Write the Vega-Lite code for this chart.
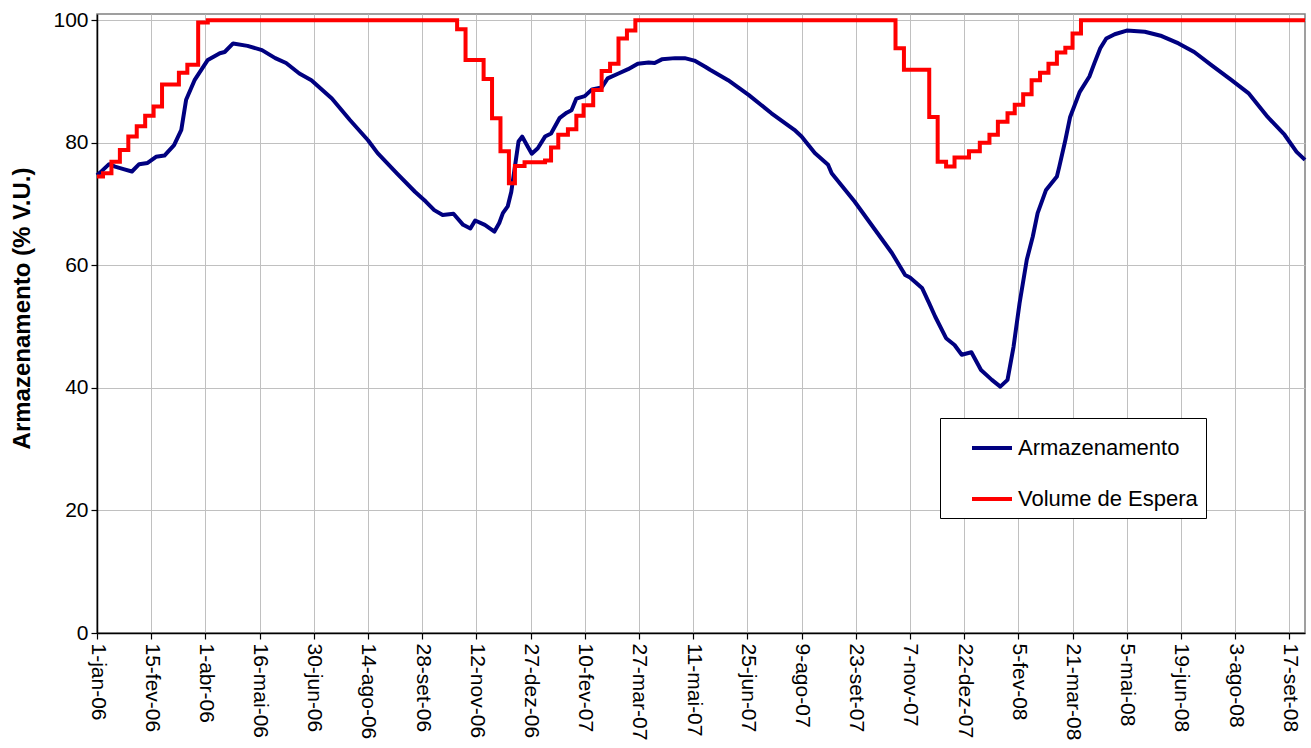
{
  "$schema": "https://vega.github.io/schema/vega-lite/v6.json",
  "width": 1208,
  "height": 619,
  "autosize": {"type": "none"},
  "padding": {"left": 97, "top": 14, "right": 6, "bottom": 115},
  "background": "white",
  "config": {
    "font": "Liberation Sans",
    "view": {"stroke": "#808080", "strokeWidth": 1.5},
    "axis": {"labelFont": "Liberation Sans", "titleFont": "Liberation Sans", "labelColor": "black", "titleColor": "black", "domainColor": "black", "domainWidth": 1.5, "tickColor": "black", "tickWidth": 1.2, "gridColor": "#c0c0c0", "gridWidth": 1}
  },
  "datasets": {
    "serie": [
      {"serie": "Armazenamento", "data": "2006-01-01", "valor": 74.7},
      {"serie": "Armazenamento", "data": "2006-01-04", "valor": 75.2},
      {"serie": "Armazenamento", "data": "2006-01-11", "valor": 76.5},
      {"serie": "Armazenamento", "data": "2006-01-16", "valor": 76.1},
      {"serie": "Armazenamento", "data": "2006-01-23", "valor": 75.7},
      {"serie": "Armazenamento", "data": "2006-01-30", "valor": 75.3},
      {"serie": "Armazenamento", "data": "2006-02-05", "valor": 76.5},
      {"serie": "Armazenamento", "data": "2006-02-12", "valor": 76.7},
      {"serie": "Armazenamento", "data": "2006-02-19", "valor": 77.7},
      {"serie": "Armazenamento", "data": "2006-02-26", "valor": 77.9},
      {"serie": "Armazenamento", "data": "2006-03-06", "valor": 79.6},
      {"serie": "Armazenamento", "data": "2006-03-12", "valor": 82.1},
      {"serie": "Armazenamento", "data": "2006-03-16", "valor": 87.0},
      {"serie": "Armazenamento", "data": "2006-03-23", "valor": 90.2},
      {"serie": "Armazenamento", "data": "2006-04-03", "valor": 93.5},
      {"serie": "Armazenamento", "data": "2006-04-13", "valor": 94.6},
      {"serie": "Armazenamento", "data": "2006-04-17", "valor": 94.8},
      {"serie": "Armazenamento", "data": "2006-04-24", "valor": 96.2},
      {"serie": "Armazenamento", "data": "2006-05-06", "valor": 95.8},
      {"serie": "Armazenamento", "data": "2006-05-18", "valor": 95.1},
      {"serie": "Armazenamento", "data": "2006-05-29", "valor": 93.8},
      {"serie": "Armazenamento", "data": "2006-06-07", "valor": 93.0},
      {"serie": "Armazenamento", "data": "2006-06-18", "valor": 91.3},
      {"serie": "Armazenamento", "data": "2006-06-28", "valor": 90.2},
      {"serie": "Armazenamento", "data": "2006-07-15", "valor": 87.2},
      {"serie": "Armazenamento", "data": "2006-07-30", "valor": 83.7},
      {"serie": "Armazenamento", "data": "2006-08-14", "valor": 80.4},
      {"serie": "Armazenamento", "data": "2006-08-22", "valor": 78.3},
      {"serie": "Armazenamento", "data": "2006-09-07", "valor": 75.0},
      {"serie": "Armazenamento", "data": "2006-09-22", "valor": 72.0},
      {"serie": "Armazenamento", "data": "2006-10-01", "valor": 70.4},
      {"serie": "Armazenamento", "data": "2006-10-08", "valor": 69.0},
      {"serie": "Armazenamento", "data": "2006-10-15", "valor": 68.2},
      {"serie": "Armazenamento", "data": "2006-10-24", "valor": 68.4},
      {"serie": "Armazenamento", "data": "2006-11-01", "valor": 66.6},
      {"serie": "Armazenamento", "data": "2006-11-07", "valor": 66.0},
      {"serie": "Armazenamento", "data": "2006-11-11", "valor": 67.3},
      {"serie": "Armazenamento", "data": "2006-11-19", "valor": 66.6},
      {"serie": "Armazenamento", "data": "2006-11-27", "valor": 65.5},
      {"serie": "Armazenamento", "data": "2006-12-01", "valor": 66.9},
      {"serie": "Armazenamento", "data": "2006-12-04", "valor": 68.5},
      {"serie": "Armazenamento", "data": "2006-12-08", "valor": 69.6},
      {"serie": "Armazenamento", "data": "2006-12-11", "valor": 72.0},
      {"serie": "Armazenamento", "data": "2006-12-14", "valor": 76.1},
      {"serie": "Armazenamento", "data": "2006-12-17", "valor": 80.2},
      {"serie": "Armazenamento", "data": "2006-12-20", "valor": 81.0},
      {"serie": "Armazenamento", "data": "2006-12-24", "valor": 79.6},
      {"serie": "Armazenamento", "data": "2006-12-28", "valor": 78.2},
      {"serie": "Armazenamento", "data": "2007-01-02", "valor": 79.1},
      {"serie": "Armazenamento", "data": "2007-01-08", "valor": 81.0},
      {"serie": "Armazenamento", "data": "2007-01-13", "valor": 81.5},
      {"serie": "Armazenamento", "data": "2007-01-20", "valor": 84.0},
      {"serie": "Armazenamento", "data": "2007-01-26", "valor": 84.9},
      {"serie": "Armazenamento", "data": "2007-01-30", "valor": 85.3},
      {"serie": "Armazenamento", "data": "2007-02-03", "valor": 87.2},
      {"serie": "Armazenamento", "data": "2007-02-10", "valor": 87.6},
      {"serie": "Armazenamento", "data": "2007-02-16", "valor": 88.7},
      {"serie": "Armazenamento", "data": "2007-02-24", "valor": 89.0},
      {"serie": "Armazenamento", "data": "2007-03-01", "valor": 90.5},
      {"serie": "Armazenamento", "data": "2007-03-10", "valor": 91.3},
      {"serie": "Armazenamento", "data": "2007-03-18", "valor": 92.0},
      {"serie": "Armazenamento", "data": "2007-03-26", "valor": 92.9},
      {"serie": "Armazenamento", "data": "2007-04-04", "valor": 93.1},
      {"serie": "Armazenamento", "data": "2007-04-09", "valor": 93.0},
      {"serie": "Armazenamento", "data": "2007-04-15", "valor": 93.6},
      {"serie": "Armazenamento", "data": "2007-04-26", "valor": 93.8},
      {"serie": "Armazenamento", "data": "2007-05-04", "valor": 93.8},
      {"serie": "Armazenamento", "data": "2007-05-12", "valor": 93.4},
      {"serie": "Armazenamento", "data": "2007-05-21", "valor": 92.4},
      {"serie": "Armazenamento", "data": "2007-05-25", "valor": 91.9},
      {"serie": "Armazenamento", "data": "2007-06-09", "valor": 90.2},
      {"serie": "Armazenamento", "data": "2007-06-26", "valor": 87.8},
      {"serie": "Armazenamento", "data": "2007-07-15", "valor": 84.8},
      {"serie": "Armazenamento", "data": "2007-08-03", "valor": 82.1},
      {"serie": "Armazenamento", "data": "2007-08-09", "valor": 81.0},
      {"serie": "Armazenamento", "data": "2007-08-20", "valor": 78.3},
      {"serie": "Armazenamento", "data": "2007-08-31", "valor": 76.4},
      {"serie": "Armazenamento", "data": "2007-09-03", "valor": 75.0},
      {"serie": "Armazenamento", "data": "2007-09-22", "valor": 70.4},
      {"serie": "Armazenamento", "data": "2007-10-09", "valor": 65.8},
      {"serie": "Armazenamento", "data": "2007-10-23", "valor": 62.0},
      {"serie": "Armazenamento", "data": "2007-11-03", "valor": 58.4},
      {"serie": "Armazenamento", "data": "2007-11-07", "valor": 58.0},
      {"serie": "Armazenamento", "data": "2007-11-17", "valor": 56.3},
      {"serie": "Armazenamento", "data": "2007-11-23", "valor": 53.8},
      {"serie": "Armazenamento", "data": "2007-11-28", "valor": 51.6},
      {"serie": "Armazenamento", "data": "2007-12-07", "valor": 48.1},
      {"serie": "Armazenamento", "data": "2007-12-14", "valor": 47.0},
      {"serie": "Armazenamento", "data": "2007-12-20", "valor": 45.4},
      {"serie": "Armazenamento", "data": "2007-12-28", "valor": 45.8},
      {"serie": "Armazenamento", "data": "2008-01-05", "valor": 42.9},
      {"serie": "Armazenamento", "data": "2008-01-14", "valor": 41.3},
      {"serie": "Armazenamento", "data": "2008-01-21", "valor": 40.2},
      {"serie": "Armazenamento", "data": "2008-01-27", "valor": 41.3},
      {"serie": "Armazenamento", "data": "2008-02-01", "valor": 46.7},
      {"serie": "Armazenamento", "data": "2008-02-06", "valor": 53.8},
      {"serie": "Armazenamento", "data": "2008-02-12", "valor": 60.9},
      {"serie": "Armazenamento", "data": "2008-02-17", "valor": 64.7},
      {"serie": "Armazenamento", "data": "2008-02-21", "valor": 68.5},
      {"serie": "Armazenamento", "data": "2008-02-28", "valor": 72.3},
      {"serie": "Armazenamento", "data": "2008-03-08", "valor": 74.5},
      {"serie": "Armazenamento", "data": "2008-03-10", "valor": 76.1},
      {"serie": "Armazenamento", "data": "2008-03-15", "valor": 80.4},
      {"serie": "Armazenamento", "data": "2008-03-19", "valor": 84.2},
      {"serie": "Armazenamento", "data": "2008-03-27", "valor": 88.3},
      {"serie": "Armazenamento", "data": "2008-04-04", "valor": 90.8},
      {"serie": "Armazenamento", "data": "2008-04-08", "valor": 92.9},
      {"serie": "Armazenamento", "data": "2008-04-13", "valor": 95.4},
      {"serie": "Armazenamento", "data": "2008-04-18", "valor": 97.0},
      {"serie": "Armazenamento", "data": "2008-04-25", "valor": 97.7},
      {"serie": "Armazenamento", "data": "2008-05-05", "valor": 98.3},
      {"serie": "Armazenamento", "data": "2008-05-20", "valor": 98.1},
      {"serie": "Armazenamento", "data": "2008-06-03", "valor": 97.4},
      {"serie": "Armazenamento", "data": "2008-06-17", "valor": 96.2},
      {"serie": "Armazenamento", "data": "2008-06-30", "valor": 94.8},
      {"serie": "Armazenamento", "data": "2008-07-14", "valor": 92.7},
      {"serie": "Armazenamento", "data": "2008-07-31", "valor": 90.2},
      {"serie": "Armazenamento", "data": "2008-08-14", "valor": 88.1},
      {"serie": "Armazenamento", "data": "2008-08-30", "valor": 84.2},
      {"serie": "Armazenamento", "data": "2008-09-13", "valor": 81.3},
      {"serie": "Armazenamento", "data": "2008-09-23", "valor": 78.5},
      {"serie": "Armazenamento", "data": "2008-09-30", "valor": 77.2},
      {"serie": "Volume de Espera", "data": "2006-01-01", "valor": 74.5},
      {"serie": "Volume de Espera", "data": "2006-01-06", "valor": 75.0},
      {"serie": "Volume de Espera", "data": "2006-01-13", "valor": 76.9},
      {"serie": "Volume de Espera", "data": "2006-01-20", "valor": 78.8},
      {"serie": "Volume de Espera", "data": "2006-01-27", "valor": 81.0},
      {"serie": "Volume de Espera", "data": "2006-02-03", "valor": 82.7},
      {"serie": "Volume de Espera", "data": "2006-02-10", "valor": 84.4},
      {"serie": "Volume de Espera", "data": "2006-02-17", "valor": 85.9},
      {"serie": "Volume de Espera", "data": "2006-02-24", "valor": 89.5},
      {"serie": "Volume de Espera", "data": "2006-03-10", "valor": 91.4},
      {"serie": "Volume de Espera", "data": "2006-03-17", "valor": 92.7},
      {"serie": "Volume de Espera", "data": "2006-03-26", "valor": 99.6},
      {"serie": "Volume de Espera", "data": "2006-04-03", "valor": 100},
      {"serie": "Volume de Espera", "data": "2006-10-27", "valor": 98.5},
      {"serie": "Volume de Espera", "data": "2006-11-03", "valor": 93.5},
      {"serie": "Volume de Espera", "data": "2006-11-18", "valor": 90.4},
      {"serie": "Volume de Espera", "data": "2006-11-25", "valor": 84.0},
      {"serie": "Volume de Espera", "data": "2006-12-02", "valor": 78.6},
      {"serie": "Volume de Espera", "data": "2006-12-09", "valor": 73.4},
      {"serie": "Volume de Espera", "data": "2006-12-14", "valor": 76.2},
      {"serie": "Volume de Espera", "data": "2006-12-22", "valor": 76.8},
      {"serie": "Volume de Espera", "data": "2007-01-08", "valor": 77.1},
      {"serie": "Volume de Espera", "data": "2007-01-13", "valor": 79.2},
      {"serie": "Volume de Espera", "data": "2007-01-19", "valor": 81.3},
      {"serie": "Volume de Espera", "data": "2007-01-27", "valor": 82.2},
      {"serie": "Volume de Espera", "data": "2007-02-03", "valor": 84.4},
      {"serie": "Volume de Espera", "data": "2007-02-09", "valor": 86.1},
      {"serie": "Volume de Espera", "data": "2007-02-17", "valor": 88.6},
      {"serie": "Volume de Espera", "data": "2007-02-24", "valor": 91.7},
      {"serie": "Volume de Espera", "data": "2007-03-03", "valor": 92.9},
      {"serie": "Volume de Espera", "data": "2007-03-10", "valor": 97.0},
      {"serie": "Volume de Espera", "data": "2007-03-17", "valor": 98.3},
      {"serie": "Volume de Espera", "data": "2007-03-24", "valor": 100},
      {"serie": "Volume de Espera", "data": "2007-10-26", "valor": 95.4},
      {"serie": "Volume de Espera", "data": "2007-11-02", "valor": 91.9},
      {"serie": "Volume de Espera", "data": "2007-11-23", "valor": 84.2},
      {"serie": "Volume de Espera", "data": "2007-11-30", "valor": 76.9},
      {"serie": "Volume de Espera", "data": "2007-12-07", "valor": 76.1},
      {"serie": "Volume de Espera", "data": "2007-12-14", "valor": 77.6},
      {"serie": "Volume de Espera", "data": "2007-12-26", "valor": 78.6},
      {"serie": "Volume de Espera", "data": "2008-01-04", "valor": 80.0},
      {"serie": "Volume de Espera", "data": "2008-01-12", "valor": 81.3},
      {"serie": "Volume de Espera", "data": "2008-01-19", "valor": 83.4},
      {"serie": "Volume de Espera", "data": "2008-01-27", "valor": 84.8},
      {"serie": "Volume de Espera", "data": "2008-02-02", "valor": 86.2},
      {"serie": "Volume de Espera", "data": "2008-02-09", "valor": 87.9},
      {"serie": "Volume de Espera", "data": "2008-02-16", "valor": 90.2},
      {"serie": "Volume de Espera", "data": "2008-02-23", "valor": 91.4},
      {"serie": "Volume de Espera", "data": "2008-03-01", "valor": 92.9},
      {"serie": "Volume de Espera", "data": "2008-03-08", "valor": 94.7},
      {"serie": "Volume de Espera", "data": "2008-03-15", "valor": 95.5},
      {"serie": "Volume de Espera", "data": "2008-03-21", "valor": 97.8},
      {"serie": "Volume de Espera", "data": "2008-03-28", "valor": 100},
      {"serie": "Volume de Espera", "data": "2008-09-30", "valor": 100}
    ]
  },
  "data": {"name": "serie"},
  "encoding": {
    "x": {
      "field": "data",
      "type": "temporal",
      "scale": {"type": "utc", "domain": [{"year": 2006, "month": 1, "date": 1, "utc": true}, {"year": 2008, "month": 9, "date": 30, "utc": true}], "nice": false},
      "axis": {
        "title": null,
        "values": [
          {"year": 2006, "month": 1, "date": 1, "utc": true},
          {"year": 2006, "month": 2, "date": 15, "utc": true},
          {"year": 2006, "month": 4, "date": 1, "utc": true},
          {"year": 2006, "month": 5, "date": 16, "utc": true},
          {"year": 2006, "month": 6, "date": 30, "utc": true},
          {"year": 2006, "month": 8, "date": 14, "utc": true},
          {"year": 2006, "month": 9, "date": 28, "utc": true},
          {"year": 2006, "month": 11, "date": 12, "utc": true},
          {"year": 2006, "month": 12, "date": 27, "utc": true},
          {"year": 2007, "month": 2, "date": 10, "utc": true},
          {"year": 2007, "month": 3, "date": 27, "utc": true},
          {"year": 2007, "month": 5, "date": 11, "utc": true},
          {"year": 2007, "month": 6, "date": 25, "utc": true},
          {"year": 2007, "month": 8, "date": 9, "utc": true},
          {"year": 2007, "month": 9, "date": 23, "utc": true},
          {"year": 2007, "month": 11, "date": 7, "utc": true},
          {"year": 2007, "month": 12, "date": 22, "utc": true},
          {"year": 2008, "month": 2, "date": 5, "utc": true},
          {"year": 2008, "month": 3, "date": 21, "utc": true},
          {"year": 2008, "month": 5, "date": 5, "utc": true},
          {"year": 2008, "month": 6, "date": 19, "utc": true},
          {"year": 2008, "month": 8, "date": 3, "utc": true},
          {"year": 2008, "month": 9, "date": 17, "utc": true}
        ],
        "labelExpr": "utcdate(datum.value) + '-' + ['jan','fev','mar','abr','mai','jun','jul','ago','set','out','nov','dez'][utcmonth(datum.value)] + '-' + utcFormat(datum.value, '%y')",
        "labelAngle": 90,
        "labelAlign": "left",
        "labelBaseline": "middle",
        "labelFontSize": 21,
        "labelPadding": 4,
        "labelOverlap": false,
        "labelFlush": false,
        "tickSize": 6,
        "grid": true
      }
    },
    "y": {
      "field": "valor",
      "type": "quantitative",
      "scale": {"domain": [0, 101], "nice": false},
      "axis": {
        "title": "Armazenamento (% V.U.)",
        "titleFontSize": 24,
        "titleFontWeight": "bold",
        "titleAngle": -90,
        "titleX": -75,
        "titleY": 294,
        "titleAlign": "center",
        "titleBaseline": "middle",
        "values": [0, 20, 40, 60, 80, 100],
        "labelFontSize": 21,
        "labelPadding": 3,
        "tickSize": 6,
        "grid": true
      }
    },
    "color": {
      "field": "serie",
      "type": "nominal",
      "scale": {"domain": ["Armazenamento", "Volume de Espera"], "range": ["#000080", "#FF0000"]},
      "legend": {
        "title": null,
        "orient": "none",
        "legendX": 843,
        "legendY": 404,
        "strokeColor": "black",
        "fillColor": "white",
        "padding": 8,
        "rowPadding": 18,
        "symbolType": "stroke",
        "symbolSize": 1600,
        "symbolStrokeWidth": 4,
        "symbolOffset": 22,
        "labelOffset": 4,
        "labelFontSize": 22,
        "labelFont": "Liberation Sans",
        "labelColor": "black",
        "labelLimit": 400
      }
    }
  },
  "layer": [
    {
      "transform": [{"filter": "datum.serie == 'Armazenamento'"}],
      "mark": {"type": "line", "strokeWidth": 4, "strokeJoin": "round"}
    },
    {
      "transform": [{"filter": "datum.serie == 'Volume de Espera'"}],
      "mark": {"type": "line", "strokeWidth": 4, "interpolate": "step-after", "strokeJoin": "miter"}
    }
  ]
}
